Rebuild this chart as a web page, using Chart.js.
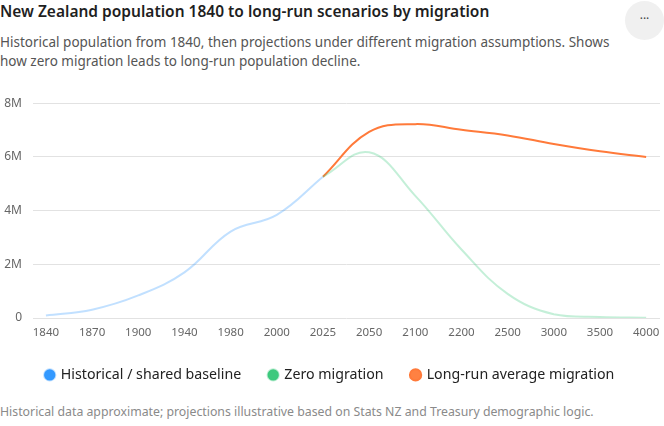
<!DOCTYPE html>
<html>
<head>
<meta charset="utf-8">
<script src="https://cdn.jsdelivr.net/npm/chart.js@4"></script>
<style>
  body { margin: 0; background: #fff; font-family: 'Noto Sans', sans-serif; }
  #wrap { position: relative; width: 664px; height: 426px; overflow: hidden; }
  h1 { position: absolute; left: 0; top: 0; margin: 0; font-size: 15.5px; font-weight: 600; color: #1f1f1f; line-height: 22px; }
  .sub { position: absolute; left: 0; top: 33px; margin: 0; font-size: 13.5px; color: #555; line-height: 19px; width: 625px; }
  .menu { position: absolute; left: 625px; top: 1px; width: 39px; height: 39px; border-radius: 50%; background: #f0f0f0; color: #444; font-size: 12px; text-align: center; line-height: 35px; }
  #box { position: absolute; left: 0; top: 85px; width: 664px; height: 307px; }
  .foot { position: absolute; left: 0; top: 403px; font-size: 12.3px; color: #8a8a8a; }
</style>
</head>
<body>
<div id="wrap">
  <h1>New Zealand population 1840 to long-run scenarios by migration</h1>
  <p class="sub">Historical population from 1840, then projections under different migration assumptions. Shows how zero migration leads to long-run population decline.</p>
  <div class="menu">···</div>
  <div id="box"><canvas id="myChart"></canvas></div>
  <div class="foot">Historical data approximate; projections illustrative based on Stats NZ and Treasury demographic logic.</div>
</div>
<script>
const ctx = document.getElementById('myChart');

// x categories (evenly spaced on the axis)
const years = ['1840', '1870', '1900', '1940', '1980', '2000', '2025', '2050', '2100', '2200', '2500', '3000', '3500', '4000'];

// population, people
const historical = [90000, 310000, 840000, 1700000, 3220000, 3840000, 5260000, null, null, null, null, null, null, null];
const zeroMigration = [null, null, null, null, null, null, 5260000, 6170000, 4550000, 2550000, 900000, 140000, 40000, 10000];
const longRunMigration = [null, null, null, null, null, null, 5260000, 6930000, 7220000, 7010000, 6800000, 6480000, 6210000, 6000000];

const yTicks = [0, 2000000, 4000000, 6000000, 8000000];

const toPoints = (arr) => arr.map((v, i) => ({ x: i, y: v }));

const fmtM = (v) => (v === 0 ? '0' : v / 1000000 + 'M');

new Chart(ctx, {
  type: 'line',
  data: {
    datasets: [
      {
        label: 'Historical / shared baseline',
        data: toPoints(historical),
        borderColor: 'rgba(51, 153, 255, 0.3)',
        backgroundColor: '#3399ff',
        borderWidth: 2,
        pointRadius: 0,
        tension: 0.4,
      },
      {
        label: 'Zero migration',
        data: toPoints(zeroMigration),
        borderColor: 'rgba(61, 201, 125, 0.3)',
        backgroundColor: '#3dc97d',
        borderWidth: 2,
        pointRadius: 0,
        tension: 0.4,
      },
      {
        label: 'Long-run average migration',
        data: toPoints(longRunMigration),
        borderColor: '#ff7a3a',
        backgroundColor: '#ff8142',
        borderWidth: 2,
        pointRadius: 0,
        tension: 0.4,
      },
    ],
  },
  options: {
    responsive: true,
    maintainAspectRatio: false,
    animation: false,
    layout: {
      padding: { left: 0, right: 4, top: 2 },
    },
    scales: {
      x: {
        type: 'linear',
        min: -0.28,
        max: 13.3,
        grid: { display: false },
        border: { display: false },
        afterBuildTicks: (scale) => {
          scale.ticks = years.map((_, i) => ({ value: i }));
        },
        ticks: {
          color: '#666',
          font: { family: 'Noto Sans', size: 11.5 },
          maxRotation: 0,
          autoSkip: false,
          padding: 0,
          callback: (v) => years[v],
        },
      },
      y: {
        min: 0,
        max: 8000000,
        border: { display: false },
        grid: { color: '#e2e2e2', drawTicks: false },
        afterBuildTicks: (scale) => {
          scale.ticks = yTicks.map((v) => ({ value: v }));
        },
        afterFit: (scale) => {
          scale.width = 33;
        },
        ticks: {
          color: '#666',
          font: { family: 'Noto Sans', size: 12 },
          padding: 11,
          callback: fmtM,
        },
      },
    },
    plugins: {
      legend: {
        position: 'bottom',
        labels: {
          usePointStyle: true,
          pointStyle: 'circle',
          boxWidth: 8,
          boxHeight: 8,
          padding: 28,
          color: '#222',
          font: { family: 'Noto Sans', size: 14.2 },
        },
      },
      tooltip: { enabled: false },
    },
  },
  plugins: [
    {
      // dashed horizontal grid lines
      id: 'dashGrid',
      beforeDraw: (chart) => {
        chart.ctx.setLineDash([4, 4]);
      },
      afterDraw: (chart) => {
        chart.ctx.setLineDash([]);
      },
    },
  ],
});
</script>
</body>
</html>
